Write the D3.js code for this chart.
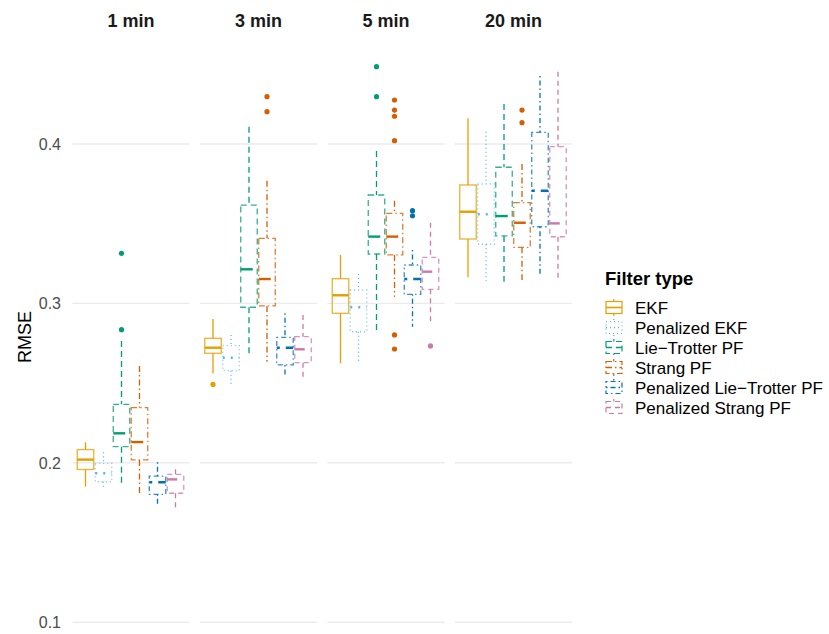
<!DOCTYPE html>
<html>
<head>
<meta charset="utf-8">
<script src="https://cdn.jsdelivr.net/npm/d3@7"></script>
<style>
  body { margin: 0; background: #fff; }
  svg { font-family: "Liberation Sans", Arial, sans-serif; }
</style>
</head>
<body>
<svg id="chart" width="829" height="634"></svg>
<script>
// Data: [lower whisker, Q1, median, Q3, upper whisker]
var intervals = ['1 min', '3 min', '5 min', '20 min'];
var filters = ['EKF', 'Penalized EKF', 'Lie\u2212Trotter PF', 'Strang PF',
    'Penalized Lie\u2212Trotter PF', 'Penalized Strang PF'];

var stats1min = [
    [0.1851, 0.1958, 0.2020, 0.2083, 0.2129],
    [0.1846, 0.1881, 0.1934, 0.1997, 0.2066],
    [0.1854, 0.2101, 0.2185, 0.2367, 0.2764],
    [0.1792, 0.2018, 0.2130, 0.2346, 0.2607],
    [0.1729, 0.1802, 0.1878, 0.1917, 0.2003],
    [0.1715, 0.1809, 0.1896, 0.1928, 0.1959]
];
var stats3min = [
    [0.2561, 0.2687, 0.2722, 0.2781, 0.2902],
    [0.2482, 0.2578, 0.2659, 0.2735, 0.2802],
    [0.2687, 0.2976, 0.3214, 0.3617, 0.4109],
    [0.2634, 0.2984, 0.3153, 0.3408, 0.3770],
    [0.2551, 0.2614, 0.2722, 0.2787, 0.2938],
    [0.2536, 0.2628, 0.2712, 0.2791, 0.2927]
];
var stats5min = [
    [0.2624, 0.2938, 0.3051, 0.3155, 0.3304],
    [0.2634, 0.2822, 0.2976, 0.3084, 0.3184],
    [0.2812, 0.3310, 0.3419, 0.3680, 0.3956],
    [0.3042, 0.3304, 0.3419, 0.3565, 0.3644],
    [0.2854, 0.3057, 0.3153, 0.3241, 0.3335],
    [0.2864, 0.3088, 0.3199, 0.3289, 0.3506]
];
var stats20min = [
    [0.3164, 0.3404, 0.3575, 0.3743, 0.4161],
    [0.3141, 0.3371, 0.3559, 0.3749, 0.4077],
    [0.3136, 0.3423, 0.3548, 0.3854, 0.4251],
    [0.3147, 0.3352, 0.3506, 0.3632, 0.3875],
    [0.3178, 0.3481, 0.3707, 0.4073, 0.4427],
    [0.3141, 0.3418, 0.3502, 0.3983, 0.4454]
];

var outliers1min = [[], [], [0.3314, 0.2835], [], [], []];
var outliers3min = [[0.2492], [], [], [0.4297, 0.4203], [], []];
var outliers5min = [[], [], [0.4485, 0.4297],
    [0.4276, 0.4213, 0.4174, 0.4021, 0.2802, 0.2714], [0.3582, 0.3550], [0.2733]];
var outliers20min = [[], [], [], [0.4213, 0.4134], [], []];

var yTicks = [0.1, 0.2, 0.3, 0.4];

var colors = ['#E69F00', '#56B4E9', '#009E73', '#D55E00', '#0072B2', '#CC79A7'];
var dashes = [null, '1,3', '6,4', '6,3,1.5,3', '1.5,3,5,3', '5,4'];

var allStats = [stats1min, stats3min, stats5min, stats20min];
var allOutliers = [outliers1min, outliers3min, outliers5min, outliers20min];

var svg = d3.select('#chart');

var x = d3.scaleBand().domain(intervals).range([72.5, 572]).paddingInner(0.0824);
var xInner = d3.scalePoint().domain(filters).range([13, 103]);
var y = d3.scaleLinear().domain([0.1, 0.4]).range([622.2, 144]);
var boxW = 16.5;

var scaleDash = function(d, k) {
    if (!d) return null;
    return d.split(',').map(function(v) { return +v * k; }).join(',');
};

// Build a flat list of boxes from the arrays
var boxes = [];
intervals.forEach(function(iv, p) {
    filters.forEach(function(f, i) {
        var s = allStats[p][i];
        boxes.push({interval: iv, filter: f, idx: i,
            lo: s[0], q1: s[1], med: s[2], q3: s[3], hi: s[4],
            out: allOutliers[p][i]});
    });
});

// Panels: gridlines and strip labels
var panels = svg.selectAll('.panel').data(intervals).enter()
    .append('g')
    .attr('class', 'panel')
    .attr('transform', function(d) { return 'translate(' + x(d) + ',0)'; });

panels.selectAll('.grid').data(yTicks).enter()
    .append('line')
    .attr('x1', 0).attr('x2', x.bandwidth())
    .attr('y1', function(d) { return y(d); })
    .attr('y2', function(d) { return y(d); })
    .style('stroke', '#ebebeb')
    .style('stroke-width', 1.4);

panels.append('text')
    .attr('x', x.bandwidth() / 2)
    .attr('y', 27)
    .attr('text-anchor', 'middle')
    .style('font-size', '18px')
    .style('font-weight', 'bold')
    .style('fill', '#1a1a1a')
    .text(function(d) { return d; });

// Y axis labels
svg.selectAll('.ytick').data(yTicks).enter()
    .append('text')
    .attr('x', 61)
    .attr('y', function(d) { return y(d) + 6; })
    .attr('text-anchor', 'end')
    .style('font-size', '16px')
    .style('fill', '#4d4d4d')
    .text(function(d) { return d3.format('.1f')(d); });

svg.append('text')
    .attr('transform', 'translate(31,337) rotate(-90)')
    .attr('text-anchor', 'middle')
    .style('font-size', '18px')
    .style('fill', '#000')
    .text('RMSE');

// Boxes
var g = svg.selectAll('.box').data(boxes).enter()
    .append('g')
    .attr('class', 'box')
    .attr('transform', function(d) {
        return 'translate(' + (x(d.interval) + xInner(d.filter)) + ',0)';
    });

g.append('line')
    .attr('x1', 0).attr('x2', 0)
    .attr('y1', function(d) { return y(d.hi); })
    .attr('y2', function(d) { return y(d.q3); })
    .style('stroke', function(d) { return colors[d.idx]; })
    .style('stroke-width', 1.3)
    .style('stroke-dasharray', function(d) { return dashes[d.idx]; });

g.append('line')
    .attr('x1', 0).attr('x2', 0)
    .attr('y1', function(d) { return y(d.q1); })
    .attr('y2', function(d) { return y(d.lo); })
    .style('stroke', function(d) { return colors[d.idx]; })
    .style('stroke-width', 1.3)
    .style('stroke-dasharray', function(d) { return dashes[d.idx]; });

g.append('rect')
    .attr('x', -boxW / 2)
    .attr('width', boxW)
    .attr('y', function(d) { return y(d.q3); })
    .attr('height', function(d) { return y(d.q1) - y(d.q3); })
    .style('fill', 'none')
    .style('stroke', function(d) { return colors[d.idx]; })
    .style('stroke-opacity', 0.8)
    .style('stroke-width', 1.3)
    .style('stroke-dasharray', function(d) { return dashes[d.idx]; });

g.append('line')
    .attr('x1', -boxW / 2).attr('x2', boxW / 2)
    .attr('y1', function(d) { return y(d.med); })
    .attr('y2', function(d) { return y(d.med); })
    .style('stroke', function(d) { return colors[d.idx]; })
    .style('stroke-width', 2.4)
    .style('stroke-dasharray', function(d) { return scaleDash(dashes[d.idx], 2); });

g.selectAll('.outlier')
    .data(function(d) { return d.out.map(function(v) { return {v: v, idx: d.idx}; }); })
    .enter()
    .append('circle')
    .attr('cx', 0)
    .attr('cy', function(d) { return y(d.v); })
    .attr('r', 2.6)
    .style('fill', function(d) { return colors[d.idx]; });

// Legend
var legend = svg.append('g').attr('transform', 'translate(605,0)');
legend.append('text')
    .attr('x', 0).attr('y', 285)
    .style('font-size', '18.5px')
    .style('font-weight', 'bold')
    .text('Filter type');

var rows = legend.selectAll('.key').data(filters).enter()
    .append('g')
    .attr('class', 'key')
    .attr('transform', function(d, i) { return 'translate(0,' + (307.5 + i * 20) + ')'; });

rows.append('line')
    .attr('x1', 8.8).attr('x2', 8.8).attr('y1', -8.5).attr('y2', 8.5)
    .style('stroke', function(d, i) { return colors[i]; })
    .style('stroke-width', 1.2)
    .style('stroke-dasharray', function(d, i) { return dashes[i]; });

rows.append('rect')
    .attr('x', 1).attr('width', 16)
    .attr('y', -6).attr('height', 12)
    .style('fill', '#fff')
    .style('stroke', function(d, i) { return colors[i]; })
    .style('stroke-width', 1.2)
    .style('stroke-dasharray', function(d, i) { return dashes[i]; });

rows.append('line')
    .attr('x1', 1).attr('x2', 17).attr('y1', 0).attr('y2', 0)
    .style('stroke', function(d, i) { return colors[i]; })
    .style('stroke-width', 1.6)
    .style('stroke-dasharray', function(d, i) { return dashes[i]; });

rows.append('text')
    .attr('x', 30).attr('y', 6)
    .style('font-size', '17px')
    .style('fill', '#000')
    .text(function(d) { return d; });
</script>
</body>
</html>
